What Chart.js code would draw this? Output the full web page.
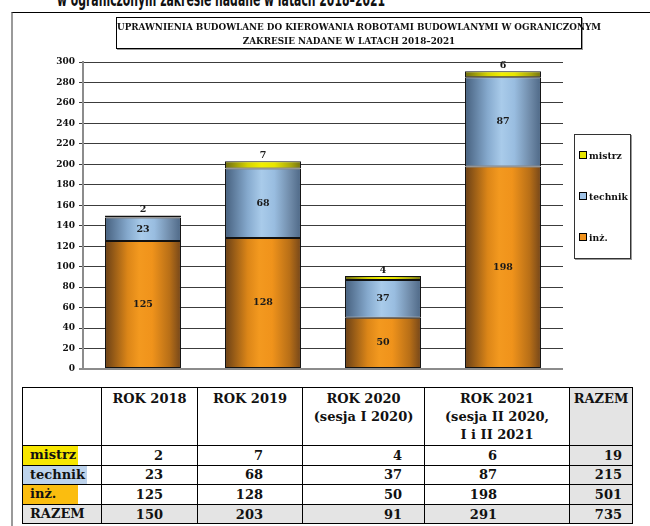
<!DOCTYPE html>
<html lang="pl">
<head>
<meta charset="utf-8">
<script src="https://cdn.jsdelivr.net/npm/chart.js@4/dist/chart.umd.min.js"></script>
<style>
  body { margin: 0; width: 650px; height: 526px; overflow: hidden; background: #fff; position: relative;
         font-family: "DejaVu Serif", serif; font-weight: bold; color: #111; }
  #heading { position: absolute; left: 57px; top: -11px; white-space: nowrap; transform-origin: 0 0;
             font: bold 20px/20px "Liberation Sans Narrow", "DejaVu Sans Condensed", "DejaVu Sans", sans-serif; color: #111; }
  #frame { position: absolute; left: 11px; top: 12px; width: 700px; height: 600px;
           border-top: 1px solid #000; border-left: 2px solid #9a9a9a; }
  #wrap { position: absolute; left: 0; top: 0; width: 650px; height: 380px; }
  #title { position: absolute; left: 116px; top: 17px; width: 464px; height: 28px; border: 1px solid #000;
           box-shadow: 1px 1px 0 #999; text-align: center; font-size: 8.8px; line-height: 14px; padding-top: 2px;
           white-space: nowrap; }
  #legend { position: absolute; left: 574px; top: 134px; width: 55px; height: 123px; border: 1px solid #333;
            box-shadow: 1px 1px 0 #999; background: #fff; font-size: 9.2px; }
  #legend div { position: absolute; left: 4px; height: 12px; line-height: 12px; white-space: nowrap; }
  #legend i { display: inline-block; width: 6px; height: 6px; border: 1px solid #000; margin-right: 2px; vertical-align: 0; }
  #table { position: absolute; left: 22px; top: 387px; border-collapse: collapse; font-size: 13px; }
  #table td { border: 1px solid #000; padding: 0; height: 18.6px; line-height: 17px; text-align: right; }
  #table tr.head td { height: 55px; vertical-align: top; text-align: center; padding-top: 2px; line-height: 18px; }
  #table td.lab { text-align: left; }
  #table td.lab span { display: block; height: 18.6px; padding-left: 7px; }
  #table tr.sum td, #table td.total { background: #e4e4e4; }
</style>
</head>
<body>
<div id="heading">w ograniczonym zakresie nadane w latach 2018–2021</div>
<div id="frame"></div>
<div id="wrap"><canvas id="chart" width="650" height="380"></canvas></div>
<div id="title">UPRAWNIENIA BUDOWLANE DO KIEROWANIA ROBOTAMI BUDOWLANYMI W OGRANICZONYM<br>ZAKRESIE NADANE W LATACH 2018–2021</div>
<div id="legend"></div>
<table id="table"></table>
<script>
const categories = ['ROK 2018', 'ROK 2019', 'ROK 2020', 'ROK 2021'];
const headers = ['ROK 2018', 'ROK 2019', 'ROK 2020<br>(sesja I 2020)', 'ROK 2021<br>(sesja II 2020,<br>I i II 2021'];
const inz = [125, 128, 50, 198];
const technik = [23, 68, 37, 87];
const mistrz = [2, 7, 4, 6];
const yTicks = [0, 300, 20];

const BAR_PCT = 0.633;
const SERIF = '"DejaVu Serif", serif';

// poziome przejścia kolorów, żeby słupki wyglądały jak walce
const gradienty = {
  'inż.':   [[0, '#6a4016'], [0.3, '#dc8618'], [0.45, '#f3991f'], [0.62, '#f0931b'], [0.85, '#b86f17'], [1, '#74461a']],
  technik:  [[0, '#46607e'], [0.3, '#86aace'], [0.48, '#a9cbea'], [0.65, '#99bde0'], [0.87, '#6d88a6'], [1, '#4e6886']],
  mistrz:   [[0, '#6e6c10'], [0.3, '#d6d400'], [0.48, '#f2ef00'], [0.65, '#e8e600'], [0.87, '#a8a60c'], [1, '#747212']]
};
const kolory = { 'inż.': '#f0921c', technik: '#9fc2e6', mistrz: '#e8e600' };
const tabelaKolory = { mistrz: ['#f7e600', 55], technik: ['#bdd3ec', 64], 'inż.': ['#fbbd0f', 55] };

function cylinder(nazwa) {
  return (c) => {
    const chart = c.chart;
    const x = chart.scales.x;
    if (!chart.chartArea || !x || c.type !== 'data') return kolory[nazwa];
    const cx = x.getPixelForValue(c.dataIndex);
    const half = x.width / categories.length * BAR_PCT / 2;
    const g = chart.ctx.createLinearGradient(cx - half, 0, cx + half, 0);
    gradienty[nazwa].forEach(([p, col]) => g.addColorStop(p, col));
    return g;
  };
}

function seria(nazwa, dane) {
  return {
    label: nazwa,
    data: dane,
    backgroundColor: cylinder(nazwa),
    borderColor: '#111',
    borderWidth: 1,
    borderSkipped: false,
    barPercentage: BAR_PCT,
    categoryPercentage: 1
  };
}

// wartości na słupkach: środek segmentu, górny (mistrz) nad słupkiem
const etykiety = {
  id: 'etykiety',
  afterDatasetsDraw(chart) {
    const ctx = chart.ctx;
    const ostatni = chart.data.datasets.length - 1;
    ctx.save();
    ctx.font = 'bold 9.5px ' + SERIF;
    ctx.fillStyle = '#1a1a1a';
    ctx.textAlign = 'center';
    chart.data.datasets.forEach((ds, i) => {
      chart.getDatasetMeta(i).data.forEach((bar, j) => {
        if (i === ostatni) {
          ctx.textBaseline = 'bottom';
          ctx.fillText(ds.data[j], bar.x, bar.y - 1);
        } else {
          ctx.textBaseline = 'middle';
          ctx.fillText(ds.data[j], bar.x, (bar.y + bar.base) / 2);
        }
      });
    });
    ctx.restore();
  }
};

new Chart(document.getElementById('chart'), {
  type: 'bar',
  data: {
    labels: categories,
    datasets: [seria('inż.', inz), seria('technik', technik), seria('mistrz', mistrz)]
  },
  options: {
    responsive: false,
    animation: false,
    layout: { padding: { top: 62, bottom: 11, left: 0, right: 87 } },
    plugins: { legend: { display: false }, tooltip: { enabled: false } },
    scales: {
      x: { stacked: true, display: false },
      y: {
        stacked: true,
        min: yTicks[0],
        max: yTicks[1],
        afterFit(scale) { scale.width = 83; },
        ticks: {
          stepSize: yTicks[2],
          padding: 4,
          color: '#111',
          font: { family: SERIF, size: 9, weight: 'bold' }
        },
        grid: {
          tickLength: 4,
          color: (c) => c.tick && c.tick.value === 0 ? '#8c8c8c' : '#3c3c3c',
          lineWidth: (c) => c.tick && c.tick.value === 0 ? 2 : 1
        },
        border: { color: '#8c8c8c', width: 2 }
      }
    }
  },
  plugins: [etykiety]
});

// nagłówek nad wykresem ściśnięty do szerokości kolumny tekstu
const naglowek = document.getElementById('heading');
naglowek.style.transform = `scaleX(${328 / naglowek.offsetWidth})`;

// legenda
const legenda = document.getElementById('legend');
[['mistrz', 21], ['technik', 62], ['inż.', 103]].forEach(([n, top]) => {
  const d = document.createElement('div');
  d.style.top = (top - 6) + 'px';
  d.innerHTML = `<i style="background:${kolory[n]}"></i>${n}`;
  legenda.appendChild(d);
});

// tabela z danymi
const suma = (a) => a.reduce((s, v) => s + v, 0);
const wiersze = [['mistrz', mistrz], ['technik', technik], ['inż.', inz]];
const szer = [79, 96, 105, 122, 145, 63];
const prawy = [34, 39, 22, 72, 10];
let html = '<colgroup>' + szer.map(w => `<col style="width:${w}px">`).join('') + '</colgroup>';
html += '<tr class="head"><td></td>' + headers.map(h => `<td>${h}</td>`).join('') + '<td class="total">RAZEM</td></tr>';
const komorki = (vals) => vals.map((v, i) => `<td${i === 4 ? ' class="total"' : ''} style="padding-right:${prawy[i]}px">${v}</td>`).join('');
wiersze.forEach(([n, d]) => {
  const [bg, w] = tabelaKolory[n];
  html += `<tr><td class="lab"><span style="background:${bg};width:${w - 7}px">${n}</span></td>` + komorki([...d, suma(d)]) + '</tr>';
});
const razem = categories.map((_, i) => mistrz[i] + technik[i] + inz[i]);
html += '<tr class="sum"><td class="lab"><span>RAZEM</span></td>' + komorki([...razem, suma(razem)]) + '</tr>';
document.getElementById('table').innerHTML = html;
</script>
</body>
</html>
